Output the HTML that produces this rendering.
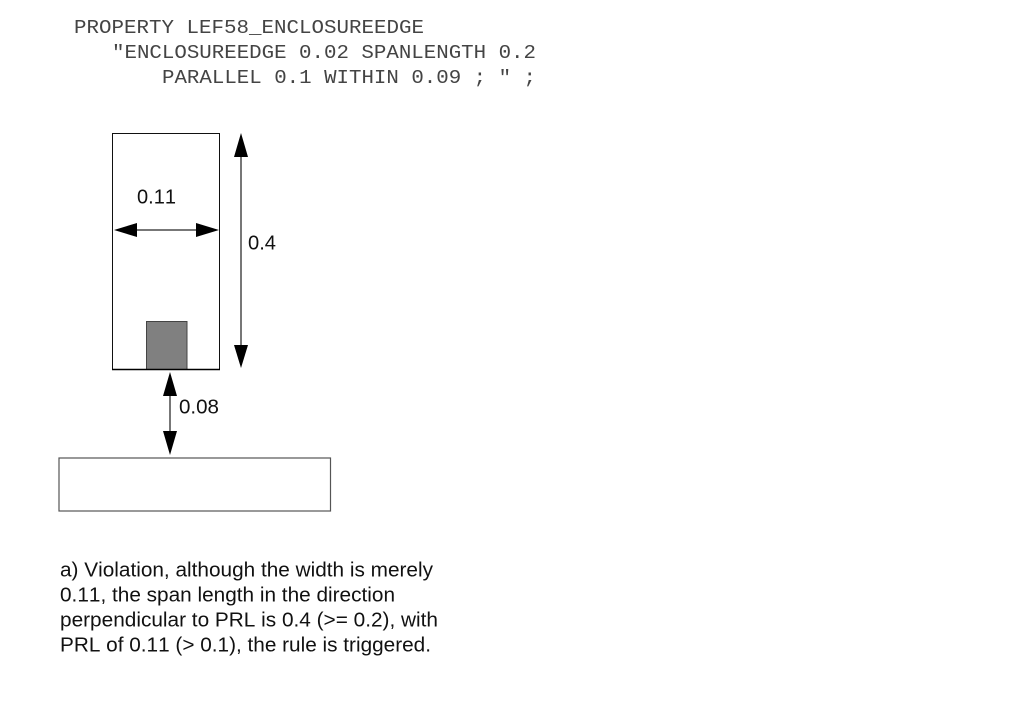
<!DOCTYPE html>
<html>
<head>
<meta charset="utf-8">
<style>
html,body{margin:0;padding:0;background:#fff;width:1013px;height:711px;overflow:hidden}
svg{display:block}
.m{font-family:"Liberation Mono",monospace;font-size:19px;fill:#444}
.s{font-family:"Liberation Sans",sans-serif;font-size:20px;fill:#111;font-kerning:none}
</style>
</head>
<body>
<svg width="1013" height="711" viewBox="0 0 1013 711" xmlns="http://www.w3.org/2000/svg">
<rect width="1013" height="711" fill="#fff"/>
<text class="m" x="74" y="33" textLength="350" lengthAdjust="spacingAndGlyphs">PROPERTY LEF58_ENCLOSUREEDGE</text>
<text class="m" x="112" y="58" textLength="424" lengthAdjust="spacingAndGlyphs">"ENCLOSUREEDGE 0.02 SPANLENGTH 0.2</text>
<text class="m" x="162" y="83" textLength="374" lengthAdjust="spacingAndGlyphs">PARALLEL 0.1 WITHIN 0.09 ; " ;</text>

<rect x="112.500" y="133.500" width="107" height="236" fill="#fff" stroke="#111" stroke-width="1"/>
<rect x="146.500" y="321.500" width="40.500" height="48" fill="#808080" stroke="#444" stroke-width="1"/>
<line x1="112" y1="369.500" x2="220" y2="369.500" stroke="#000" stroke-width="1.400"/>

<line x1="130" y1="230" x2="202" y2="230" stroke="#777" stroke-width="2"/>
<polygon points="114,230 137,223 137,237" fill="#000"/>
<polygon points="219,230 196,223 196,237" fill="#000"/>

<line x1="241" y1="150" x2="241" y2="352" stroke="#777" stroke-width="2"/>
<polygon points="241,133 234,157 248,157" fill="#000"/>
<polygon points="241,368 234,345 248,345" fill="#000"/>

<line x1="170" y1="390" x2="170" y2="436" stroke="#777" stroke-width="2"/>
<polygon points="170,372 163,396 177,396" fill="#000"/>
<polygon points="170,455 163,431 177,431" fill="#000"/>

<rect x="59" y="458" width="271.500" height="53" fill="#fff" stroke="#555" stroke-width="1.200"/>

<text class="s" x="137" y="203.500" textLength="39" lengthAdjust="spacingAndGlyphs">0.11</text>
<text class="s" x="248" y="249.500" textLength="28" lengthAdjust="spacingAndGlyphs">0.4</text>
<text class="s" x="179" y="413.500" textLength="40" lengthAdjust="spacingAndGlyphs">0.08</text>

<text class="s" x="60" y="576.500" textLength="373" lengthAdjust="spacingAndGlyphs">a) Violation, although the width is merely</text>
<text class="s" x="60" y="601.500" textLength="335" lengthAdjust="spacingAndGlyphs">0.11, the span length in the direction</text>
<text class="s" x="60" y="626.500" textLength="378" lengthAdjust="spacingAndGlyphs">perpendicular to PRL is 0.4 (&gt;= 0.2), with</text>
<text class="s" x="60" y="651.500" textLength="371" lengthAdjust="spacingAndGlyphs">PRL of 0.11 (&gt; 0.1), the rule is triggered.</text>
</svg>
</body>
</html>
